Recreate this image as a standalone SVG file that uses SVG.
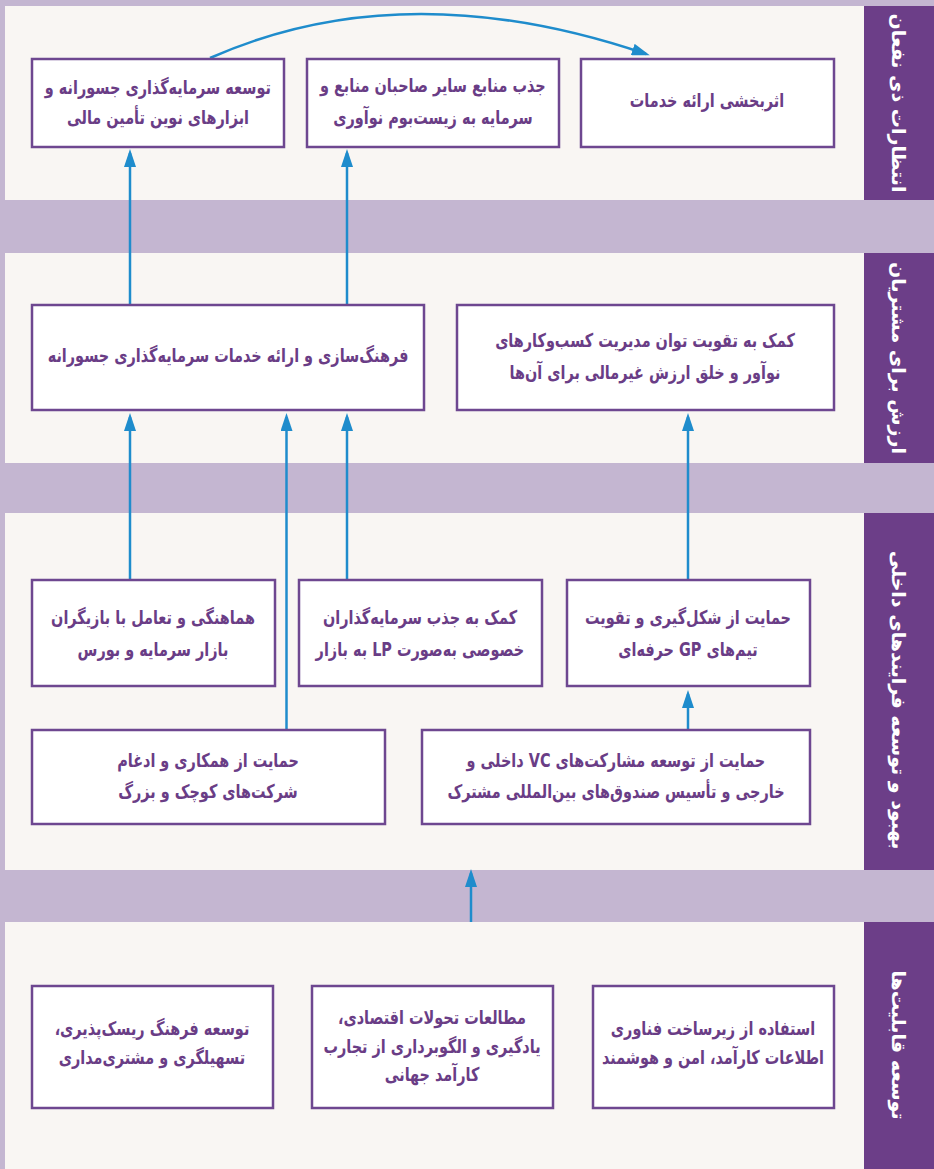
<svg xmlns="http://www.w3.org/2000/svg" width="934" height="1169" viewBox="0 0 934 1169">
  <defs>
    <style>
      .band { fill: #c4b6d1; }
      .panel { fill: #f9f6f3; }
      .side { fill: #6c3e88; }
      .box { fill: #ffffff; stroke: #6e4790; stroke-width: 2.5; }
      .t { font-family: "DejaVu Sans", "Noto Sans", sans-serif; font-weight: bold; font-size: 19px; fill: #6a3d86; text-anchor: middle; direction: rtl;
           transform: scaleX(0.76); transform-box: fill-box; transform-origin: center; }
      .side-t { font-family: "DejaVu Sans", "Noto Sans", sans-serif; font-weight: bold; font-size: 19px; fill: #ffffff; text-anchor: middle; direction: rtl; }
      .link { fill: none; stroke: #1f8ccc; stroke-width: 2.5; }
    </style>
    <marker id="arrow" markerUnits="userSpaceOnUse" markerWidth="18" markerHeight="12" refX="14" refY="6" orient="auto">
      <path d="M0,0 L18,6 L0,12 z" fill="#1f8ccc"/>
    </marker>
  </defs>

  <!-- background and row panels -->
  <rect class="band" x="0" y="0" width="934" height="1169"/>
  <rect class="panel" x="5" y="6" width="859" height="194"/>
  <rect class="panel" x="5" y="253" width="859" height="210"/>
  <rect class="panel" x="5" y="513" width="859" height="357"/>
  <rect class="panel" x="5" y="922" width="859" height="247"/>

  <!-- side headings -->
  <g id="heading-stakeholders">
    <rect class="side" x="864" y="6" width="70" height="194"/>
    <text class="side-t" transform="translate(899,103) rotate(90)" dy="7">انتظارات ذی نفعان</text>
  </g>
  <g id="heading-customers">
    <rect class="side" x="864" y="253" width="70" height="210"/>
    <text class="side-t" transform="translate(899,358) rotate(90)" dy="7">ارزش برای مشتریان</text>
  </g>
  <g id="heading-processes">
    <rect class="side" x="864" y="513" width="70" height="357"/>
    <text class="side-t" transform="translate(899,700) rotate(90)" dy="7">بهبود و توسعه فرایندهای داخلی</text>
  </g>
  <g id="heading-capabilities">
    <rect class="side" x="864" y="922" width="70" height="247"/>
    <text class="side-t" transform="translate(899,1045) rotate(90)" dy="7">توسعه قابلیت‌ها</text>
  </g>

  <!-- connectors -->
  <g id="connectors">
    <path class="link" d="M210,58 Q404,-28 646,54" marker-end="url(#arrow)"/>
    <path class="link" d="M130,305 V153" marker-end="url(#arrow)"/>
    <path class="link" d="M347,305 V153" marker-end="url(#arrow)"/>
    <path class="link" d="M130,580 V417" marker-end="url(#arrow)"/>
    <path class="link" d="M347,580 V417" marker-end="url(#arrow)"/>
    <path class="link" d="M286.5,730 V417" marker-end="url(#arrow)"/>
    <path class="link" d="M688,580 V417" marker-end="url(#arrow)"/>
    <path class="link" d="M688,730 V694" marker-end="url(#arrow)"/>
    <path class="link" d="M471,922 V873" marker-end="url(#arrow)"/>
  </g>

  <!-- row 1: stakeholder expectations -->
  <g id="node-vc-finance">
    <rect class="box" x="32" y="59" width="252" height="88"/>
    <text class="t" x="158" y="94">توسعه سرمایه‌گذاری جسورانه و</text>
    <text class="t" x="158" y="124">ابزارهای نوین تأمین مالی</text>
  </g>
  <g id="node-attract-resources">
    <rect class="box" x="307" y="59" width="252" height="88"/>
    <text class="t" x="433" y="92">جذب منابع سایر صاحبان منابع و</text>
    <text class="t" x="433" y="124">سرمایه به زیست‌بوم نوآوری</text>
  </g>
  <g id="node-service-effectiveness">
    <rect class="box" x="581" y="59" width="253" height="88"/>
    <text class="t" x="707" y="107">اثربخشی ارائه خدمات</text>
  </g>

  <!-- row 2: customer value -->
  <g id="node-culture-services">
    <rect class="box" x="32" y="305" width="392" height="105"/>
    <text class="t" x="228" y="362">فرهنگ‌سازی و ارائه خدمات سرمایه‌گذاری جسورانه</text>
  </g>
  <g id="node-management-support">
    <rect class="box" x="457" y="305" width="377" height="105"/>
    <text class="t" x="645" y="347">کمک به تقویت توان مدیریت کسب‌وکارهای</text>
    <text class="t" x="645" y="379">نوآور و خلق ارزش غیرمالی برای آن‌ها</text>
  </g>

  <!-- row 3: internal processes -->
  <g id="node-market-players">
    <rect class="box" x="32" y="580" width="243" height="106"/>
    <text class="t" x="153" y="624">هماهنگی و تعامل با بازیگران</text>
    <text class="t" x="153" y="656">بازار سرمایه و بورس</text>
  </g>
  <g id="node-private-lp">
    <rect class="box" x="299" y="580" width="243" height="106"/>
    <text class="t" x="420" y="624">کمک به جذب سرمایه‌گذاران</text>
    <text class="t" x="420" y="656">خصوصی به‌صورت LP به بازار</text>
  </g>
  <g id="node-gp-teams">
    <rect class="box" x="567" y="580" width="243" height="106"/>
    <text class="t" x="688" y="624">حمایت از شکل‌گیری و تقویت</text>
    <text class="t" x="688" y="656">تیم‌های GP حرفه‌ای</text>
  </g>
  <g id="node-merger">
    <rect class="box" x="32" y="730" width="353" height="94"/>
    <text class="t" x="208" y="767">حمایت از همکاری و ادغام</text>
    <text class="t" x="208" y="798">شرکت‌های کوچک و بزرگ</text>
  </g>
  <g id="node-vc-partnerships">
    <rect class="box" x="422" y="730" width="388" height="94"/>
    <text class="t" x="616" y="767">حمایت از توسعه مشارکت‌های VC داخلی و</text>
    <text class="t" x="616" y="798">خارجی و تأسیس صندوق‌های بین‌المللی مشترک</text>
  </g>

  <!-- row 4: capabilities -->
  <g id="node-risk-culture">
    <rect class="box" x="32" y="986" width="241" height="122"/>
    <text class="t" x="152" y="1035">توسعه فرهنگ ریسک‌پذیری،</text>
    <text class="t" x="152" y="1064">تسهیلگری و مشتری‌مداری</text>
  </g>
  <g id="node-economic-studies">
    <rect class="box" x="312" y="986" width="241" height="122"/>
    <text class="t" x="432" y="1024">مطالعات تحولات اقتصادی،</text>
    <text class="t" x="432" y="1053">یادگیری و الگوبرداری از تجارب</text>
    <text class="t" x="432" y="1081">کارآمد جهانی</text>
  </g>
  <g id="node-it-infrastructure">
    <rect class="box" x="593" y="986" width="241" height="122"/>
    <text class="t" x="713" y="1035">استفاده از زیرساخت فناوری</text>
    <text class="t" x="713" y="1064">اطلاعات کارآمد، امن و هوشمند</text>
  </g>
</svg>
